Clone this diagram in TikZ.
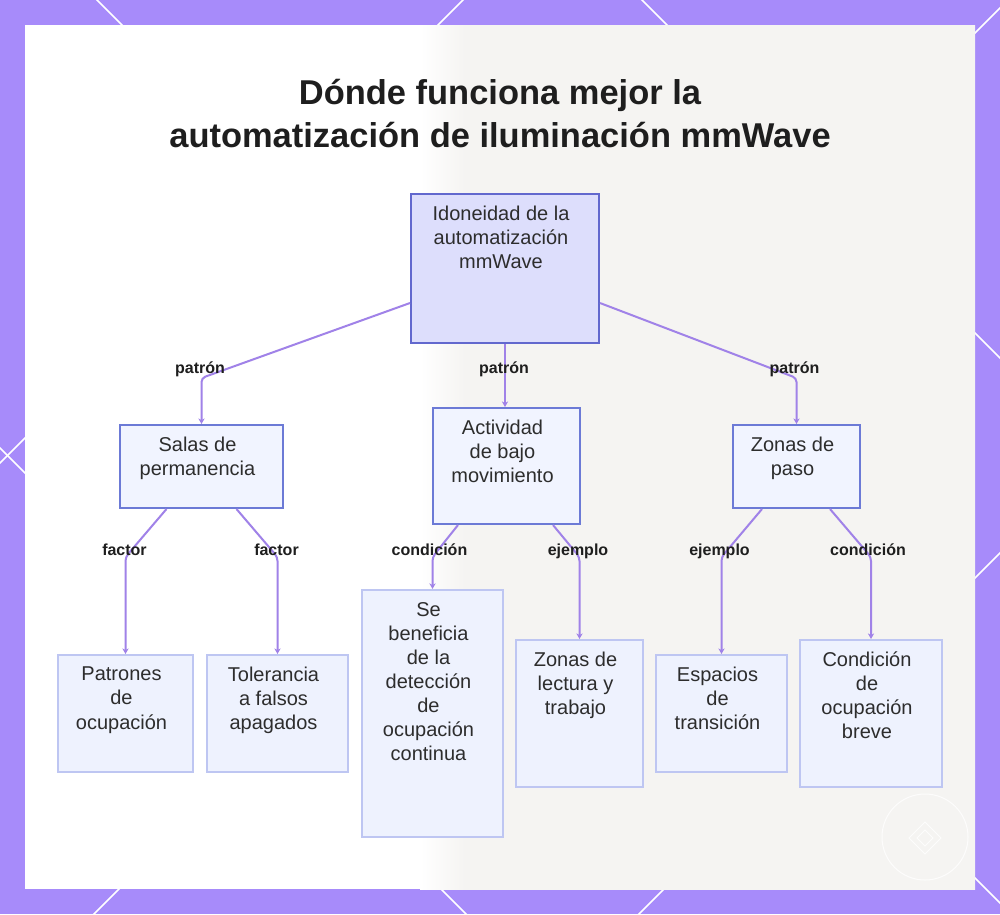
\documentclass[tikz,border=0pt]{standalone}
\usepackage{fontspec}
\setmainfont{Liberation Sans}
\usepackage{tikz}
\usetikzlibrary{positioning,calc,arrows.meta}
\definecolor{frameviolet}{RGB}{167,139,250}
\definecolor{panelgray}{RGB}{245,244,242}
\definecolor{linkviolet}{RGB}{160,130,232}
\definecolor{rootfill}{RGB}{221,222,252}
\definecolor{rootline}{RGB}{98,104,206}
\definecolor{midfill}{RGB}{241,244,255}
\definecolor{midline}{RGB}{108,122,214}
\definecolor{leaffill}{RGB}{238,242,254}
\definecolor{leafline}{RGB}{190,198,242}
\definecolor{inkgray}{RGB}{45,45,45}
\definecolor{titleink}{RGB}{30,30,30}

\begin{document}
\begin{tikzpicture}[x=0.01cm,y=-0.01cm,node distance=0.125cm,
  title/.style={font=\bfseries\fontsize{9.8pt}{11.95pt}\selectfont,align=center,text=titleink,inner sep=0,anchor=north},
  rootbox/.style={draw=rootline,fill=rootfill,line width=0.02cm,inner sep=0},
  midbox/.style={draw=midline,fill=midfill,line width=0.02cm,inner sep=0},
  leafbox/.style={draw=leafline,fill=leaffill,line width=0.02cm,inner sep=0},
  boxtext/.style={font=\fontsize{5.69pt}{6.83pt}\selectfont,align=center,text=inkgray,inner sep=0,xshift=-0.04cm},
  linklabel/.style={font=\bfseries\fontsize{4.55pt}{5.5pt}\selectfont,text=titleink,inner sep=0,anchor=base},
  link/.style={draw=linkviolet,line width=0.02cm,rounded corners=0.04cm,-{Stealth[length=1.6pt,width=1.8pt]}}]
  \useasboundingbox (0,0) rectangle (1000,914);

  % frame and its lattice
  \fill[frameviolet] (0,0) rectangle (1000,914);
  \begin{scope}
    \clip (0,0) rectangle (1000,914);
    \foreach \c in {-448,97,642}
      \draw[white,line width=0.015cm] (\c-100,-100) -- (\c+1100,1100);
    \foreach \d in {463,1008,1553}
      \draw[white,line width=0.015cm] (\d+100,-100) -- (\d-1100,1100);
  \end{scope}

  % panel
  \fill[white] (25,25) rectangle (975,889);
  \begin{scope}
    \clip (25,25) rectangle (975,889);
    \shade[left color=white,right color=panelgray] (420,20) rectangle (465,894);
    \fill[panelgray] (465,20) rectangle (980,894);
  \end{scope}
  \begin{scope}[white,opacity=0.8,line width=0.01cm]
    \draw (925,837) circle[radius=43];
    \draw (925,822) -- (941,838) -- (925,854) -- (909,838) -- cycle;
    \draw (925,830) -- (933,838) -- (925,846) -- (917,838) -- cycle;
  \end{scope}

  % title
  \node[title] (title) at (500,79) {Dónde funciona mejor la\\automatización de iluminación mmWave};

  % root
  \node[rootbox,minimum width=1.88cm,minimum height=1.49cm] (idone) at (505,268.5) {};
  \node[boxtext,below=of idone.north] (idonetxt) {Idoneidad de la\\automatización\\mmWave};

  % second level
  \node[midbox,minimum width=1.63cm,minimum height=0.83cm] (salas) at (201.5,466.5) {};
  \node[boxtext,below=of salas.north] (salastxt) {Salas de\\permanencia};
  \node[midbox,minimum width=1.47cm,minimum height=1.16cm] (activ) at (506.5,466) {};
  \node[boxtext,below=of activ.north] (activtxt) {Actividad\\de bajo\\movimiento};
  \node[midbox,minimum width=1.27cm,minimum height=0.83cm] (paso) at (796.5,466.5) {};
  \node[boxtext,below=of paso.north] (pasotxt) {Zonas de\\paso};

  % leaves
  \node[leafbox,minimum width=1.35cm,minimum height=1.17cm] (patron) at (125.5,713.5) {};
  \node[boxtext,below=of patron.north] (patrontxt) {Patrones\\de\\ocupación};
  \node[leafbox,minimum width=1.41cm,minimum height=1.17cm] (toler) at (277.5,713.5) {};
  \node[boxtext,below=of toler.north] (tolertxt) {Tolerancia\\a falsos\\apagados};
  \node[leafbox,minimum width=1.41cm,minimum height=2.47cm] (benef) at (432.5,713.5) {};
  \node[boxtext,below=of benef.north] (beneftxt) {Se\\beneficia\\de la\\detección\\de\\ocupación\\continua};
  \node[leafbox,minimum width=1.27cm,minimum height=1.47cm] (lectura) at (579.5,713.5) {};
  \node[boxtext,below=of lectura.north] (lecturatxt) {Zonas de\\lectura y\\trabajo};
  \node[leafbox,minimum width=1.31cm,minimum height=1.17cm] (transi) at (721.5,713.5) {};
  \node[boxtext,below=of transi.north] (transitxt) {Espacios\\de\\transición};
  \node[leafbox,minimum width=1.42cm,minimum height=1.47cm] (breve) at (871,713.5) {};
  \node[boxtext,below=of breve.north] (brevetxt) {Condición\\de\\ocupación\\breve};

  % links
  \draw[link] ([yshift=0.41cm]idone.south west) -- (salas.north |- 0,378) -- (salas.north);
  \draw[link] (idone.south) -- (idone.south |- activ.north);
  \draw[link] ([yshift=0.41cm]idone.south east) -- (paso.north |- 0,378) -- (paso.north);
  \draw[link] ([xshift=-0.35cm]salas.south) -- (patron.north |- 0,557) -- (patron.north);
  \draw[link] ([xshift=0.35cm]salas.south) -- (toler.north |- 0,557) -- (toler.north);
  \draw[link] ([xshift=-0.485cm]activ.south) -- (benef.north |- 0,557) -- (benef.north);
  \draw[link] ([xshift=0.465cm]activ.south) -- (lectura.north |- 0,557) -- (lectura.north);
  \draw[link] ([xshift=-0.345cm]paso.south) -- (transi.north |- 0,557) -- (transi.north);
  \draw[link] ([xshift=0.335cm]paso.south) -- (breve.north |- 0,557) -- (breve.north);

  % link labels
  \node[linklabel] (lsalas) at (200,373) {patrón};
  \node[linklabel] (lactiv) at (504,373) {patrón};
  \node[linklabel] (lpaso) at (794.5,373) {patrón};
  \node[linklabel] (lpatron) at (124.5,555) {factor};
  \node[linklabel] (ltoler) at (276.5,555) {factor};
  \node[linklabel] (lbenef) at (429.5,555) {condición};
  \node[linklabel] (llectura) at (578,555) {ejemplo};
  \node[linklabel] (ltransi) at (719.5,555) {ejemplo};
  \node[linklabel] (lbreve) at (868,555) {condición};
\end{tikzpicture}
\end{document}
